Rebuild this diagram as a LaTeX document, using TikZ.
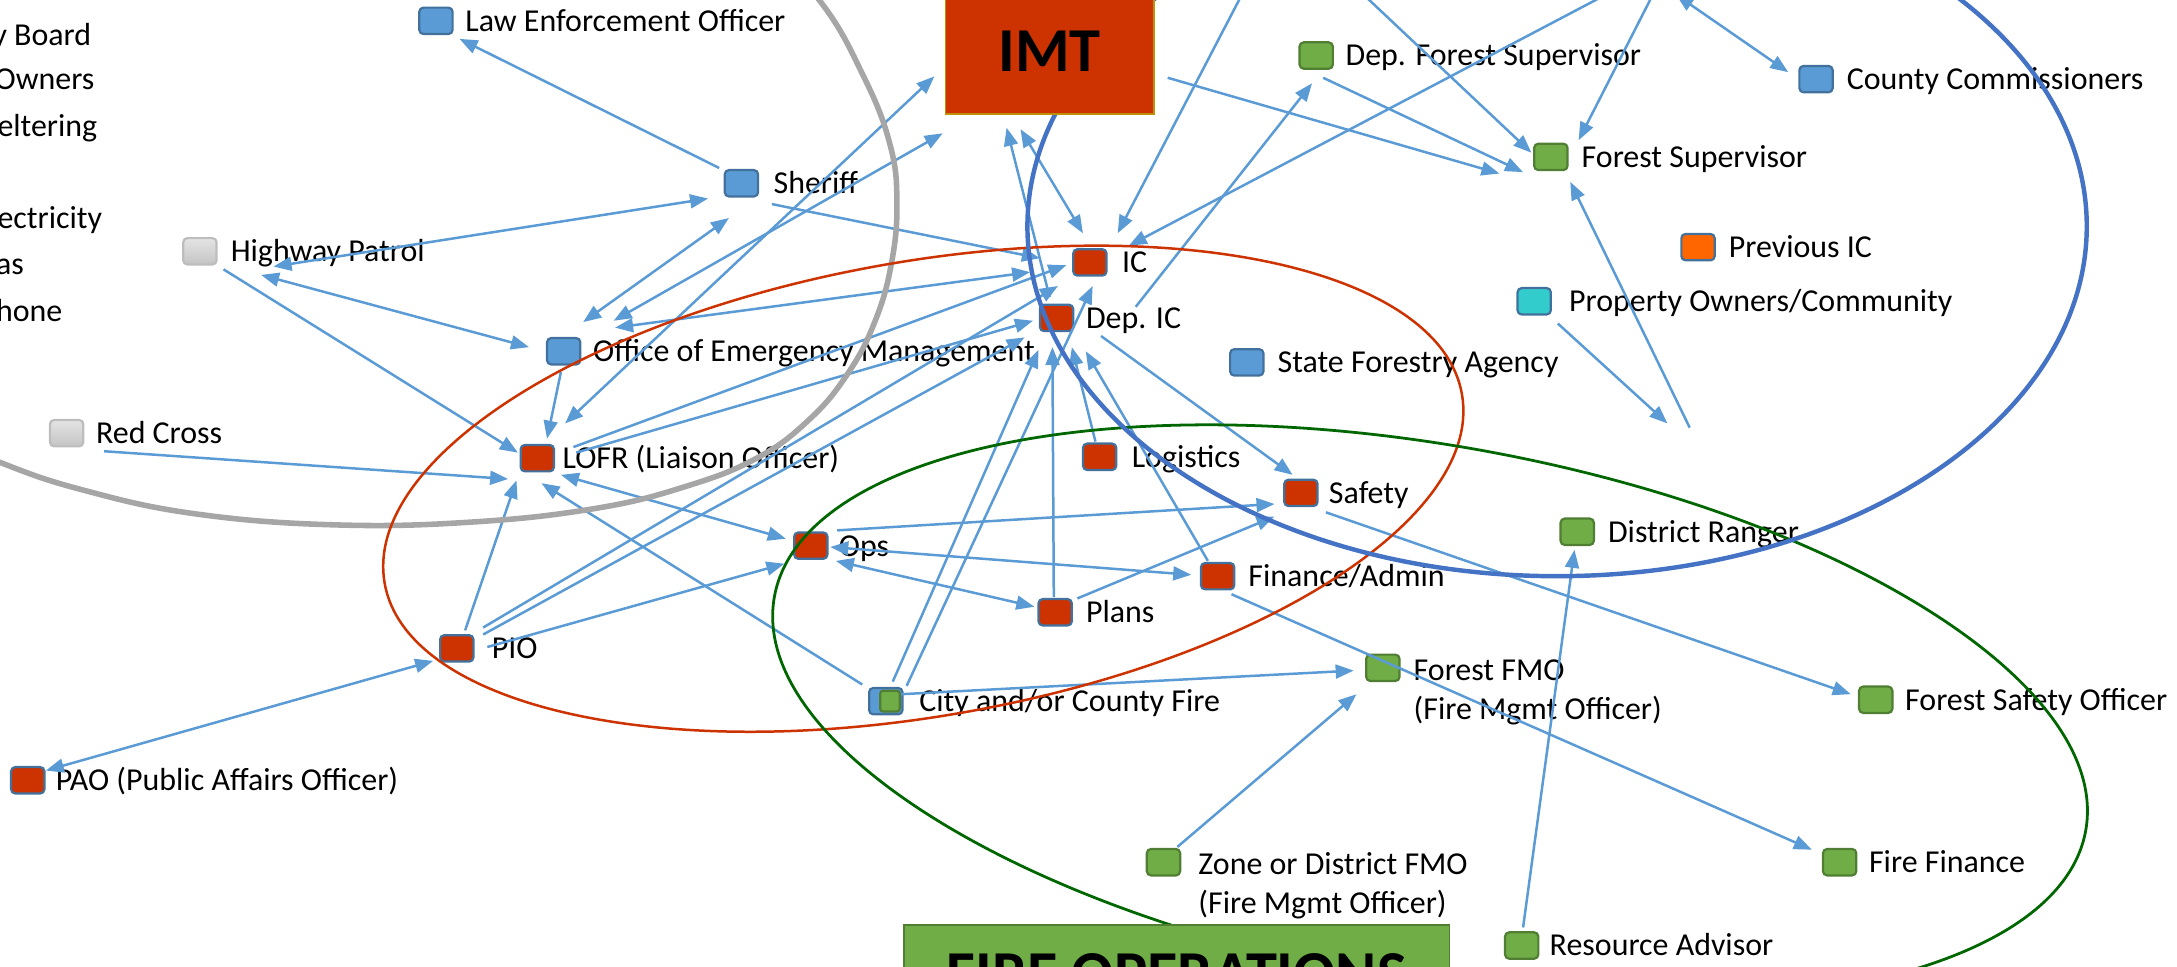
\documentclass[tikz,border=0pt]{standalone}
\usepackage{fontspec}
\setmainfont{Carlito}
\usetikzlibrary{arrows.meta,calc}
\definecolor{arrowblue}{HTML}{5B9BD5}
\definecolor{boxblue}{HTML}{5B9BD5}
\definecolor{edgeblue}{HTML}{41719C}
\definecolor{boxred}{HTML}{CC3300}
\definecolor{boxgreen}{HTML}{70AD47}
\definecolor{edgegreen}{HTML}{507E32}
\definecolor{boxorange}{HTML}{FF6600}
\definecolor{boxteal}{HTML}{33CCCC}
\definecolor{edgegold}{HTML}{BF9000}
\definecolor{ellgray}{HTML}{A6A6A6}
\definecolor{ellred}{HTML}{CC3300}
\definecolor{ellgreen}{HTML}{006600}
\definecolor{ellblue}{HTML}{4472C4}
\definecolor{graytop}{HTML}{E4E4E4}
\definecolor{graybot}{HTML}{C4C4C4}
\definecolor{grayedge}{HTML}{BDBDBD}
\begin{document}
\begin{tikzpicture}[x=1pt,y=-1pt,
  sq/.style={rectangle, rounded corners=3, minimum width=24, minimum height=19, inner sep=0, line width=1.6, draw=edgeblue},
  bluesq/.style={sq, fill=boxblue},
  redsq/.style={sq, fill=boxred},
  greensq/.style={sq, fill=boxgreen, draw=edgegreen},
  graysq/.style={sq, draw=grayedge, top color=graytop, bottom color=graybot},
  orangesq/.style={sq, fill=boxorange},
  tealsq/.style={sq, fill=boxteal},
  lbl/.style={anchor=base west, inner sep=0, font=\fontsize{23}{28}\selectfont},
  lbltwo/.style={anchor=north west, inner sep=0, align=left, font=\fontsize{23}{28}\selectfont},
  bigbox/.style={rectangle, inner sep=0, line width=1.2, font=\bfseries\fontsize{45}{50}\selectfont},
  arr/.style={draw=arrowblue, line width=1.8, -{Triangle[length=13,width=10]}},
  barr/.style={arr, {Triangle[length=13,width=10]}-{Triangle[length=13,width=10]}},
]
\useasboundingbox (0,0) rectangle (1568,696);
\clip (0,0) rectangle (1568,696);

% ---------- small boxes ----------
\node[bluesq]   (law)          at (314,15)  {};
\node[bluesq]   (sheriff)      at (534,132) {};
\node[graysq]   (hwy)          at (144,181) {};
\node[bluesq]   (oem)          at (406,253) {};
\node[graysq]   (redcross)     at (48,312)  {};
\node[redsq]    (lofr)         at (387,330) {};
\node[redsq]    (pio)          at (329,467) {};
\node[redsq]    (pao)          at (20,562)  {};
\node[redsq]    (ic)           at (785,189) {};
\node[redsq]    (depic)        at (761,229) {};
\node[redsq]    (logistics)    at (792,329) {};
\node[redsq]    (safety)       at (937,355) {};
\node[redsq]    (ops)          at (584,393) {};
\node[redsq]    (finance)      at (877,415) {};
\node[redsq]    (plans)        at (760,441) {};
\node[bluesq]   (cityfire)     at (638,505) {};
\node[greensq, minimum width=14, minimum height=15, rounded corners=2] (cityfirein) at (641,505) {};
\node[greensq]  (forestfmo)    at (996,481) {};
\node[greensq]  (zonefmo)      at (838,621) {};
\node[greensq]  (resadv)       at (1096,681) {};
\node[greensq]  (firefin)      at (1325,621) {};
\node[greensq]  (forestsafety) at (1351,504) {};
\node[greensq]  (distranger)   at (1136,383) {};
\node[bluesq]   (stateforestry) at (898,261) {};
\node[tealsq]   (propowners)   at (1105,217) {};
\node[orangesq] (previc)       at (1223,178) {};
\node[greensq]  (forestsup)    at (1117,113) {};
\node[greensq]  (depforestsup) at (948,40)  {};
\node[bluesq]   (countycomm)   at (1308,57) {};

% free ends
\coordinate (topA) at (983,-3);
\coordinate (topB) at (1190,-3);
\coordinate (topC) at (894,-3);
\coordinate (topD) at (1155,-3);
\coordinate (topE) at (1207,-4);
\coordinate (gapA) at (1217,308);
\coordinate (gapB) at (1201,305);
\coordinate (imtc) at (756,37);

% ---------- labels ----------
\node[lbl] (lawL)      at ($(law.center)+(21,7.5)$)      {Law Enforcement Officer};
\node[lbl] (sheriffL)  at ($(sheriff.center)+(23,7.5)$)  {Sheriff};
\node[lbl] (hwyL)      at ($(hwy.center)+(22,7.5)$)      {Highway Patrol};
\node[lbl] (oemL)      at ($(oem.center)+(21,7.5)$)      {Office of Emergency Management};
\node[lbl] (redcrossL) at ($(redcross.center)+(21,7.5)$) {Red Cross};
\node[lbl] (lofrL)     at ($(lofr.center)+(18,7.5)$)     {LOFR (Liaison Officer)};
\node[lbl] (pioL)      at ($(pio.center)+(25,7.5)$)      {PIO};
\node[lbl] (paoL)      at ($(pao.center)+(20,7.5)$)      {PAO (Public Affairs Officer)};
\node[lbl] (icL)       at ($(ic.center)+(23,7.5)$)       {IC};
\node[lbl] (depicL)    at ($(depic.center)+(21,7.5)$)    {Dep. IC};
\node[lbl] (logisticsL) at ($(logistics.center)+(23,7.5)$) {Logistics};
\node[lbl] (safetyL)   at ($(safety.center)+(20,7.5)$)   {Safety};
\node[lbl] (opsL)      at ($(ops.center)+(20,7.5)$)      {Ops};
\node[lbl] (financeL)  at ($(finance.center)+(22,7.5)$)  {Finance/Admin};
\node[lbl] (plansL)    at ($(plans.center)+(22,7.5)$)    {Plans};
\node[lbl] (cityfireL) at ($(cityfire.center)+(24,7.5)$) {City and/or County Fire};
\node[lbltwo] (forestfmoL) at (1018,470.4) {\strut Forest FMO\\\strut (Fire Mgmt Officer)};
\node[lbltwo] (zonefmoL)   at (863,609.9)  {\strut Zone or District FMO\\\strut (Fire Mgmt Officer)};
\node[lbl] (resadvL)   at ($(resadv.center)+(20,7.5)$)   {Resource Advisor};
\node[lbl] (firefinL)  at ($(firefin.center)+(21,7.5)$)  {Fire Finance};
\node[lbl] (forestsafetyL) at ($(forestsafety.center)+(21,7.5)$) {Forest Safety Officer};
\node[lbl] (distrangerL) at ($(distranger.center)+(22,7.5)$) {District Ranger};
\node[lbl] (stateforestryL) at ($(stateforestry.center)+(22,7.5)$) {State Forestry Agency};
\node[lbl] (propownersL) at ($(propowners.center)+(25,7.5)$) {Property Owners/Community};
\node[lbl] (previcL)   at ($(previc.center)+(22,7.5)$)   {Previous IC};
\node[lbl] (forestsupL) at ($(forestsup.center)+(22,7.5)$) {Forest Supervisor};
\node[lbl] (depforestsupL) at ($(depforestsup.center)+(21,7.5)$) {Dep. Forest Supervisor};
\node[lbl] (countycommL) at ($(countycomm.center)+(22,7.5)$) {County Commissioners};
% cut-off labels at the left edge
\node[lbl] (cutA) at (-5.6,32.5)  {y Board};
\node[lbl] (cutB) at (-4,64.5)    {Owners};
\node[lbl] (cutC) at (-2,98.5)    {eltering};
\node[lbl] (cutD) at (-2,164.5)   {ectricity};
\node[lbl] (cutE) at (-3,197.5)   {as};
\node[lbl] (cutF) at (-3,231.5)   {hone};

% ---------- connectors ----------
\draw[arr]  ([shift={(-16,-11)}]sheriff.center) -- ([shift={(17,13)}]law.center);
\draw[barr] ([shift={(53,11)}]hwy.center) -- ([shift={(-24,11)}]sheriff.center);
\draw[barr] ([shift={(44,17)}]hwy.center) -- ([shift={(-25,-3)}]oem.center);
\draw[arr]  ([shift={(17,13)}]hwy.center) -- ([shift={(-14,-4)}]lofr.center);
\draw[barr] ([shift={(-9,25)}]sheriff.center) -- ([shift={(14,-21)}]oem.center);
\draw[barr] ([shift={(20,-25)}]lofr.center) -- ([shift={(-83,18)}]imtc);
\draw[barr] ([shift={(36,-22)}]oem.center) -- ([shift={(-77,59)}]imtc);
\draw[barr] ([shift={(37,-17)}]oem.center) -- ([shift={(-43,7)}]ic.center);
\draw[arr]  ([shift={(22,15)}]sheriff.center) -- ([shift={(-36,-3)}]ic.center);
\draw[arr]  ([shift={(26,-8)}]lofr.center) -- ([shift={(-17,2)}]ic.center);
\draw[arr]  ([shift={(28,-4)}]lofr.center) -- ([shift={(-17,2)}]depic.center);
\draw[arr]  ([shift={(19,-15)}]pio.center) -- ([shift={(-23,17)}]ic.center);
\draw[arr]  ([shift={(19,-10)}]pio.center) -- ([shift={(-23,14)}]depic.center);
\draw[arr]  ([shift={(19,-11)}]ops.center) -- ([shift={(-19,8)}]safety.center);
\draw[barr] ([shift={(14,1)}]ops.center) -- ([shift={(-19,-1)}]finance.center);
\draw[barr] ([shift={(18,11)}]ops.center) -- ([shift={(-15,-4)}]plans.center);
\draw[barr] ([shift={(17,12)}]lofr.center) -- ([shift={(-18,-5)}]ops.center);
\draw[arr]  ([shift={(27,13)}]redcross.center) -- ([shift={(-21,15)}]lofr.center);
\draw[arr]  ([shift={(6,-13)}]pio.center) -- ([shift={(-15,16)}]lofr.center);
\draw[arr]  ([shift={(22,-1)}]pio.center) -- ([shift={(-19,13)}]ops.center);
\draw[barr] ([shift={(13,-7)}]pao.center) -- ([shift={(-17,9)}]pio.center);
\draw[arr]  ([shift={(-2,15)}]oem.center) -- ([shift={(7,-14)}]lofr.center);
\draw[arr]  ([shift={(-17,-12)}]cityfire.center) -- ([shift={(3,18)}]lofr.center);
\draw[arr]  ([shift={(5,-14)}]cityfire.center) -- ([shift={(-13,23)}]depic.center);
\draw[arr]  ([shift={(15,-11)}]cityfire.center) -- ([shift={(2,17)}]ic.center);
\draw[arr]  ([shift={(11,-5)}]cityfire.center) -- ([shift={(-21,2)}]forestfmo.center);
\draw[arr]  ([shift={(10,-11)}]zonefmo.center) -- ([shift={(-19,19)}]forestfmo.center);
\draw[arr]  ([shift={(-1,-11)}]plans.center) -- ([shift={(-3,21)}]depic.center);
\draw[arr]  ([shift={(-3,-11)}]logistics.center) -- ([shift={(11,21)}]depic.center);
\draw[arr]  ([shift={(-7,-11)}]finance.center) -- ([shift={(21,24)}]depic.center);
\draw[arr]  ([shift={(32,13)}]depic.center) -- ([shift={(-6,-13)}]safety.center);
\draw[arr]  ([shift={(57,-8)}]depic.center) -- ([shift={(-3,20)}]depforestsup.center);
\draw[arr]  ([shift={(16,-10)}]plans.center) -- ([shift={(-19,17)}]safety.center);
\draw[barr] ([shift={(-21,56)}]imtc) -- ([shift={(-5,-21)}]ic.center);
\draw[arr]  ([shift={(-5,-15)}]depic.center) -- ([shift={(-31,55)}]imtc);
\draw[arr]  ([shift={(85,19)}]imtc) -- ([shift={(-37,12)}]forestsup.center);
\draw[arr]  ([shift={(5,16)}]depforestsup.center) -- ([shift={(-20,11)}]forestsup.center);
\draw[arr]  (topA) -- ([shift={(-14,-3)}]forestsup.center);
\draw[arr]  (topB) -- ([shift={(20,-12)}]forestsup.center);
\draw[arr]  (topC) -- ([shift={(20,-21)}]ic.center);
\draw[arr]  (topD) -- ([shift={(28,-12)}]ic.center);
\draw[barr] (topE) -- ([shift={(-20,-5)}]countycomm.center);
\draw[arr]  (gapA) -- ([shift={(14,18)}]forestsup.center);
\draw[arr]  ([shift={(17,16)}]propowners.center) -- (gapB);
\draw[arr]  ([shift={(18,14)}]safety.center) -- ([shift={(-18,-4)}]forestsafety.center);
\draw[arr]  ([shift={(10,13)}]finance.center) -- ([shift={(-20,-9)}]firefin.center);
\draw[arr]  ([shift={(1,-13)}]resadv.center) -- ([shift={(-2,13)}]distranger.center);

% ---------- group outlines ----------
\draw[ellgray, line width=4] plot[smooth, tension=0.7] coordinates {(540,-50) (590,0) (622,55) (641,104) (646,146) (642,190) (630,232) (610,270) (582,303) (545,330) (495,350) (430,366) (340,376) (240,378) (140,370) (60,353) (0,333) (-60,306)};
\draw[ellred, line width=1.8, rotate around={9.95:(665,352)}] (665,352) ellipse [x radius=393.9, y radius=163.7];
\draw[ellgreen, line width=2, rotate around={-10.1:(1030,514)}] (1030,514) ellipse [x radius=479.7, y radius=193.2];
\draw[ellblue, line width=3.2] (1121.5,163) ellipse [x radius=381.5, y radius=252];

% ---------- big boxes ----------
\node[bigbox, draw=edgegold, fill=boxred, minimum width=150, minimum height=90] (imt) at (imtc) {IMT};
\node[bigbox, draw=edgegreen, fill=boxgreen, minimum width=393, minimum height=72] (fireops) at (847.5,702) {FIRE OPERATIONS};
\end{tikzpicture}
\end{document}
